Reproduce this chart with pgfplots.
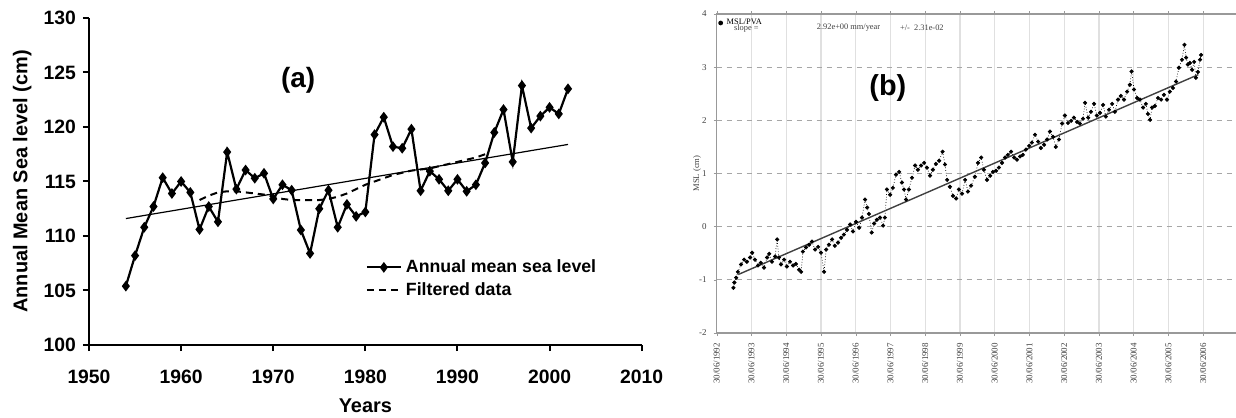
\documentclass[border=0pt]{standalone}
\usepackage{pgfplots}
\pgfplotsset{compat=1.18}
\usepackage{fontspec}
\setmainfont{Liberation Sans}
\newfontfamily\tnr{Liberation Serif}

\begin{document}
\begin{tikzpicture}
\useasboundingbox (0,0) rectangle (618bp,209bp);
% ---------------- panel (a)
\begin{axis}[
  at={(44.5bp,36.5bp)}, anchor=south west,
  scale only axis, width=276.35bp, height=163.5bp,
  xmin=1950, xmax=2010, ymin=100, ymax=130,
  axis x line=bottom, axis y line=left,
  axis line style={-, line width=1.1bp, black},
  xtick={1950,1960,...,2010}, ytick={100,105,...,130},
  tick align=outside, major tick length=3bp,
  every tick/.style={black, line width=1bp},
  ticklabel style={font=\fontsize{9.7}{11}\selectfont\bfseries},
  xticklabel style={yshift=-6bp},
  /pgf/number format/assume math mode=true,
  /pgf/number format/1000 sep={},
  xlabel={Years}, ylabel={Annual Mean Sea level (cm)},
  label style={font=\fontsize{10}{12}\selectfont\bfseries},
  xlabel style={at={(axis description cs:0.5,-0.186)}, anchor=center},
  ylabel style={at={(axis description cs:-0.121,0.5)}, anchor=center},
  legend style={at={(rel axis cs:0.5,0.275)}, anchor=north west, draw=none, fill=none,
    inner sep=0pt, font=\fontsize{8.9}{10}\selectfont\bfseries, row sep=-0.5bp},
  legend cell align=left,
  clip=false,
]
\addplot[black, line width=0.6bp, forget plot] coordinates {(1954,111.6) (2002,118.4)};
\addplot[black, line width=1.1bp, mark=diamond*, mark size=1.8bp] table {
x y
1954 105.4
1955 108.2
1956 110.8
1957 112.7
1958 115.35
1959 113.9
1960 115.0
1961 114.0
1962 110.6
1963 112.7
1964 111.3
1965 117.7
1966 114.3
1967 116.05
1968 115.3
1969 115.75
1970 113.4
1971 114.7
1972 114.2
1973 110.55
1974 108.4
1975 112.5
1976 114.2
1977 110.8
1978 112.9
1979 111.8
1980 112.2
1981 119.3
1982 120.9
1983 118.2
1984 118.05
1985 119.8
1986 114.15
1987 115.95
1988 115.2
1989 114.15
1990 115.2
1991 114.1
1992 114.7
1993 116.7
1994 119.5
1995 121.6
1996 116.8
1997 123.8
1998 119.9
1999 121.0
2000 121.8
2001 121.2
2002 123.5
};
\addlegendentry{Annual mean sea level}
\addplot[black, line width=1bp, dash pattern=on 3.5bp off 2.5bp] table {
x y
1962 113.3
1963 113.7
1964 114.0
1965 114.1
1966 114.1
1967 114.0
1968 113.9
1969 113.8
1970 113.6
1971 113.4
1972 113.3
1973 113.3
1974 113.3
1975 113.3
1976 113.4
1977 113.6
1978 113.9
1979 114.3
1980 114.7
1981 115.0
1982 115.3
1983 115.6
1984 115.8
1985 116.0
1986 116.1
1987 116.2
1988 116.4
1989 116.6
1990 116.8
1991 117.0
1992 117.2
1993 117.5
};
\addlegendentry{Filtered data}
\node[font=\fontsize{14}{16}\selectfont\bfseries] at (axis cs:1972.7,124.3) {(a)};
\end{axis}
% ---------------- panel (b)
\begin{axis}[
  at={(358.35bp,42.5bp)}, anchor=south west,
  scale only axis, width=261.65bp, height=159.5bp,
  xmin=1992.5, xmax=2007.56, ymin=-2, ymax=4,
  xtick={1992.5,1993.5,1994.5,1995.5,1996.5,1997.5,1998.5,1999.5,2000.5,2001.5,2002.5,2003.5,2004.5,2005.5,2006.5},
  xticklabels={30/06/1992,30/06/1993,30/06/1994,30/06/1995,30/06/1996,30/06/1997,30/06/1998,30/06/1999,30/06/2000,30/06/2001,30/06/2002,30/06/2003,30/06/2004,30/06/2005,30/06/2006},
  ytick={-2,-1,0,1,2,3,4},
  grid=major,
  x grid style={black!12, line width=0.6bp},
  y grid style={black!35, dash pattern=on 2.5bp off 2.5bp, line width=0.5bp},
  axis line style={black!40, line width=0.6bp},
  tick style={black!40},
  major tick length=1.5bp,
  tick align=outside,
  /pgf/number format/assume math mode=true,
  xticklabel style={font=\tnr\fontsize{4.5}{5}\selectfont, rotate=90, anchor=east, text=black!75},
  yticklabel style={font=\tnr\fontsize{4.5}{5}\selectfont, text=black!75},
  ylabel={MSL (cm)},
  ylabel style={font=\tnr\fontsize{4.3}{5}\selectfont, at={(axis description cs:-0.0377,0.5)}, anchor=center, text=black!75},
  legend style={at={(rel axis cs:0.003,0.999)}, anchor=north west, draw=none, fill=none,
    inner sep=0pt, font=\tnr\fontsize{4.2}{5}\selectfont},
  legend cell align=left,
]
\addplot[black, line width=0.35bp, densely dotted, mark=*, mark size=0.85bp, mark options={solid},
  legend image code/.code={\draw[mark=*, mark size=1bp, black] plot coordinates {(0.06cm,0cm)};}] table {
x y
1992.98 -1.15
1993.01 -1.05
1993.06 -0.96
1993.11 -0.85
1993.20 -0.71
1993.29 -0.62
1993.37 -0.66
1993.46 -0.58
1993.52 -0.49
1993.60 -0.62
1993.69 -0.73
1993.77 -0.68
1993.86 -0.77
1993.95 -0.58
1994.01 -0.51
1994.09 -0.66
1994.18 -0.56
1994.24 -0.24
1994.29 -0.58
1994.35 -0.71
1994.44 -0.62
1994.52 -0.75
1994.61 -0.66
1994.70 -0.73
1994.78 -0.70
1994.87 -0.81
1994.93 -0.85
1994.98 -0.47
1995.07 -0.39
1995.16 -0.34
1995.24 -0.28
1995.33 -0.43
1995.42 -0.38
1995.50 -0.49
1995.59 -0.85
1995.65 -0.43
1995.73 -0.34
1995.82 -0.24
1995.90 -0.36
1995.99 -0.30
1996.08 -0.21
1996.16 -0.15
1996.25 -0.06
1996.34 0.04
1996.42 -0.09
1996.51 0.09
1996.60 -0.02
1996.68 0.17
1996.77 0.51
1996.83 0.36
1996.88 0.24
1996.96 -0.11
1997.03 0.06
1997.11 0.13
1997.20 0.17
1997.29 0.02
1997.34 0.17
1997.40 0.70
1997.49 0.60
1997.57 0.73
1997.66 0.98
1997.75 1.03
1997.83 0.83
1997.89 0.70
1997.95 0.51
1998.03 0.70
1998.12 0.92
1998.21 1.15
1998.29 1.07
1998.38 1.15
1998.47 1.20
1998.55 1.11
1998.64 0.96
1998.72 1.07
1998.81 1.18
1998.90 1.24
1999.00 1.41
1999.07 1.17
1999.13 0.88
1999.21 0.75
1999.30 0.58
1999.39 0.53
1999.47 0.70
1999.56 0.62
1999.65 0.88
1999.73 0.66
1999.82 0.77
1999.93 0.94
2000.02 1.20
2000.11 1.30
2000.19 1.07
2000.28 0.88
2000.37 0.96
2000.45 1.03
2000.54 1.05
2000.62 1.11
2000.71 1.20
2000.80 1.30
2000.88 1.35
2000.97 1.41
2001.06 1.30
2001.14 1.26
2001.23 1.32
2001.31 1.35
2001.40 1.45
2001.49 1.52
2001.57 1.58
2001.66 1.73
2001.75 1.60
2001.83 1.48
2001.92 1.54
2002.01 1.64
2002.09 1.79
2002.18 1.69
2002.26 1.50
2002.35 1.64
2002.44 1.94
2002.52 2.09
2002.61 1.95
2002.70 1.99
2002.78 2.05
2002.87 1.97
2002.95 1.94
2003.04 2.03
2003.10 2.33
2003.19 2.05
2003.27 2.16
2003.36 2.31
2003.44 2.09
2003.53 2.14
2003.62 2.29
2003.70 2.07
2003.79 2.20
2003.88 2.31
2003.96 2.16
2004.05 2.39
2004.13 2.46
2004.22 2.39
2004.31 2.54
2004.39 2.67
2004.44 2.92
2004.51 2.58
2004.60 2.42
2004.68 2.39
2004.77 2.24
2004.85 2.31
2004.91 2.12
2004.97 2.01
2005.03 2.24
2005.11 2.27
2005.20 2.42
2005.29 2.39
2005.37 2.48
2005.46 2.39
2005.54 2.54
2005.63 2.61
2005.72 2.73
2005.80 2.99
2005.89 3.14
2005.96 3.42
2006.01 3.18
2006.06 3.05
2006.12 3.08
2006.18 2.95
2006.24 3.10
2006.29 2.80
2006.35 2.91
2006.41 3.14
2006.44 3.23
};
\addlegendentry{MSL/PVA}
\addplot[black!75, line width=0.7bp, forget plot] coordinates {(1993.12,-0.90) (2006.36,2.86)};
\node[anchor=west, font=\tnr\fontsize{4.2}{5}\selectfont, text=black!75] at (rel axis cs:0.0197,0.956) {slope =};
\node[anchor=west, font=\tnr\fontsize{4.2}{5}\selectfont, text=black!75] at (rel axis cs:0.178,0.956) {2.92e+00 mm/year};
\node[anchor=west, font=\tnr\fontsize{4.2}{5}\selectfont, text=black!75] at (rel axis cs:0.337,0.956) {+/-\ \ 2.31e-02};
\node[font=\fontsize{14.5}{16}\selectfont\bfseries] at (rel axis cs:0.327,0.768) {(b)};
\end{axis}
\end{tikzpicture}
\end{document}
